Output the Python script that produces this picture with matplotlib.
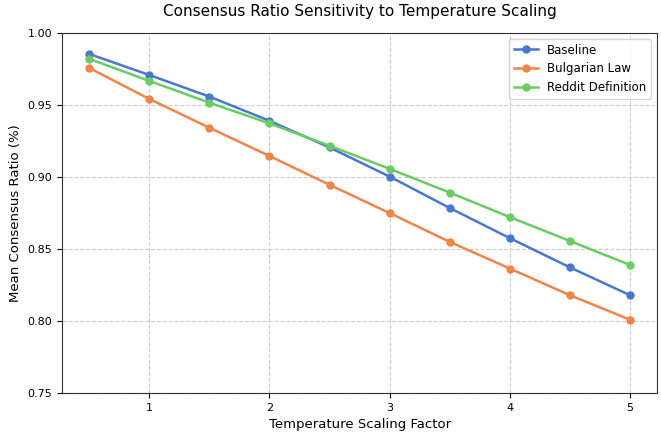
import matplotlib
matplotlib.use("Agg")
import matplotlib.pyplot as plt

temps = [0.5, 1, 1.5, 2, 2.5, 3, 3.5, 4, 4.5, 5]
baseline = [0.9854, 0.9708, 0.9558, 0.9390, 0.9205, 0.9003, 0.8785, 0.8576, 0.8373, 0.8180]
bulgarian = [0.9757, 0.9542, 0.9342, 0.9146, 0.8946, 0.8750, 0.8550, 0.8365, 0.8180, 0.8010]
reddit = [0.9820, 0.9667, 0.9516, 0.9372, 0.9217, 0.9057, 0.8892, 0.8722, 0.8556, 0.8390]
series_names = ["Baseline", "Bulgarian Law", "Reddit Definition"]
colors = ["#4878d0", "#ee854a", "#6acc64"]

fig = plt.figure(figsize=(6.61, 4.33), dpi=100)
ax = fig.add_axes([0.094, 0.092, 0.9, 0.832])
for vals, name, c in zip([baseline, bulgarian, reddit], series_names, colors):
    ax.plot(temps, vals, marker="o", markersize=5, linewidth=1.8, color=c, label=name)

ax.set_ylim(0.75, 1.0)
ax.set_xlim(0.275, 5.225)
ax.set_xticks([1, 2, 3, 4, 5])
ax.set_yticks([0.75, 0.80, 0.85, 0.90, 0.95, 1.00])
ax.set_yticklabels(["0.75", "0.80", "0.85", "0.90", "0.95", "1.00"])
ax.tick_params(labelsize=8)
ax.grid(True, linestyle="--", color="#cccccc", linewidth=0.8)
ax.set_xlabel("Temperature Scaling Factor", fontsize=9.5)
ax.set_ylabel("Mean Consensus Ratio (%)", fontsize=9.5)
ax.set_title("Consensus Ratio Sensitivity to Temperature Scaling", fontsize=11, pad=12)
for s in ax.spines.values():
    s.set_color("#333333")
ax.legend(loc="upper right", fontsize=8.5)
fig.savefig("out.png", dpi=100)
